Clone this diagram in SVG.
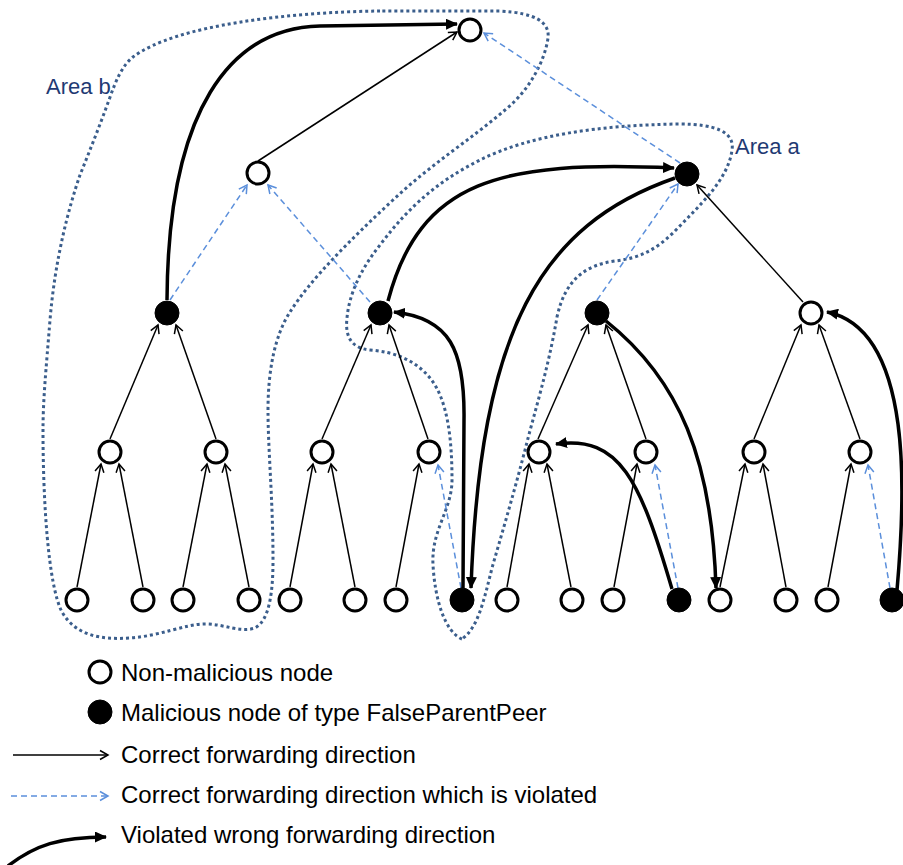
<svg xmlns="http://www.w3.org/2000/svg" width="903" height="865" viewBox="0 0 903 865">
  <style>
    .ok { fill: #ffffff; stroke: #000000; stroke-width: 3; }
    .bad { fill: #000000; stroke: #000000; stroke-width: 1; }
    .thin { fill: none; stroke: #000000; stroke-width: 1.5; marker-end: url(#openBlack); }
    .viol { fill: none; stroke: #5b8fdb; stroke-width: 1.5; stroke-dasharray: 6 4; marker-end: url(#openBlue); }
    .wrong { fill: none; stroke: #000000; stroke-width: 3.5; marker-end: url(#solid); }
    .area { fill: none; stroke: #3b5e8c; stroke-width: 3; stroke-dasharray: 3 3; }
    .areaLabel { font-family: "Liberation Sans", Arial, sans-serif; font-size: 22px; fill: #1f3a73; }
    .legendText { font-family: "Liberation Sans", Arial, sans-serif; font-size: 24px; fill: #000000; }
  </style>
  <defs>
    <marker id="openBlack" markerUnits="userSpaceOnUse" markerWidth="12" markerHeight="12" viewBox="0 0 12 12" refX="10" refY="6" orient="auto">
      <path d="M2,1.5 L10,6 L2,10.5" fill="none" stroke="#000000" stroke-width="1.5"/>
    </marker>
    <marker id="openBlue" markerUnits="userSpaceOnUse" markerWidth="12" markerHeight="12" viewBox="0 0 12 12" refX="10" refY="6" orient="auto">
      <path d="M2,1.5 L10,6 L2,10.5" fill="none" stroke="#5b8fdb" stroke-width="1.5"/>
    </marker>
    <marker id="solid" markerUnits="userSpaceOnUse" markerWidth="12" markerHeight="11" viewBox="0 0 12 11" refX="11" refY="5.5" orient="auto">
      <path d="M0,0 L12,5.5 L0,11 Z" fill="#000000"/>
    </marker>
  </defs>

  <rect width="903" height="865" fill="#ffffff"/>

  <!-- dotted outlines of the two attacked areas -->
  <g id="areas">
    <path id="area-b" class="area" d="M380,11 C290,12 175,25 133,57 C122,66 116,80 109,100 C100,125 90,150 80,175 C68,210 55,260 50,320 C46,370 43,400 43,430 C43,500 48,585 62,612 C75,635 100,640 130,638 C160,636 185,624 205,624 C225,624 240,633 255,628 C270,620 273,590 273,560 C273,500 268,450 268,410 C268,370 275,335 290,312 C310,280 350,240 393,200 C430,165 470,140 505,110 C530,90 545,60 548,38 C550,22 535,13 500,11 Z"/>
    <path id="area-a" class="area" d="M462,639 C445,632 435,600 433,565 C431,530 452,510 452,480 C452,440 448,400 430,378 C415,360 395,352 370,350 C350,348 345,335 347,318 C349,295 360,270 380,245 C410,205 440,180 480,160 C530,135 600,125 680,124 C715,124 735,132 732,150 C728,180 700,205 673,233 C655,250 640,258 615,261 C585,265 565,280 557,317 C548,370 535,410 525,450 C512,500 500,540 492,568 C484,600 478,628 462,639 Z"/>
    <text class="areaLabel" x="46" y="94">Area b</text>
    <text class="areaLabel" x="735" y="154">Area a</text>
  </g>

  <g id="connectors">
    <!-- correct forwarding direction -->
    <path class="thin" d="M258,161 L457,32"/>
    <path class="thin" d="M803,302 L697,185"/>
    <path class="thin" d="M110,439 L158,325"/>
    <path class="thin" d="M216,439 L176,325"/>
    <path class="thin" d="M322,439 L371,325"/>
    <path class="thin" d="M428,439 L389,325"/>
    <path class="thin" d="M538,439 L588,325"/>
    <path class="thin" d="M646,439 L606,325"/>
    <path class="thin" d="M754,439 L801,325"/>
    <path class="thin" d="M860,439 L819,325"/>
    <path class="thin" d="M77,587 L101,464"/>
    <path class="thin" d="M143,587 L119,464"/>
    <path class="thin" d="M183,587 L207,464"/>
    <path class="thin" d="M249,587 L225,464"/>
    <path class="thin" d="M290,587 L313,464"/>
    <path class="thin" d="M355,587 L331,464"/>
    <path class="thin" d="M396,587 L419,464"/>
    <path class="thin" d="M507,587 L529,464"/>
    <path class="thin" d="M571,587 L547,464"/>
    <path class="thin" d="M614,587 L637,464"/>
    <path class="thin" d="M720,587 L745,464"/>
    <path class="thin" d="M786,587 L763,464"/>
    <path class="thin" d="M828,587 L851,464"/>
    <!-- correct direction, violated -->
    <path class="viol" d="M680,163 L484,33"/>
    <path class="viol" d="M170,300 L247,185"/>
    <path class="viol" d="M370,302 L268,185"/>
    <path class="viol" d="M597,300 L678,184"/>
    <path class="viol" d="M461,588 L438,465"/>
    <path class="viol" d="M678,588 L655,465"/>
    <path class="viol" d="M890,588 L868,465"/>
    <!-- wrong forwarding direction -->
    <path class="wrong" d="M167,300 C168,110 230,28 320,26 L457,24"/>
    <path class="wrong" d="M388,301 C420,180 500,160 674,168"/>
    <path class="wrong" d="M675,178 C540,225 480,330 471,588"/>
    <path class="wrong" d="M463,588 L464,420 C465,350 450,318 394,312"/>
    <path class="wrong" d="M606,321 C680,380 712,460 716,588"/>
    <path class="wrong" d="M672,589 C640,480 620,435 556,444"/>
    <path class="wrong" d="M897,590 C905,500 915,330 827,312"/>
  </g>

  <g id="nodes">
    <g id="n-root"><circle class="ok" cx="470" cy="30" r="11"/></g>
    <g id="n-1a"><circle class="ok" cx="258" cy="173" r="11"/></g>
    <g id="n-1b"><circle class="bad" cx="687" cy="174" r="12"/></g>
    <g id="n-2a"><circle class="bad" cx="167" cy="313" r="12"/></g>
    <g id="n-2b"><circle class="bad" cx="380" cy="313" r="12"/></g>
    <g id="n-2c"><circle class="bad" cx="597" cy="313" r="12"/></g>
    <g id="n-2d"><circle class="ok" cx="811" cy="313" r="11"/></g>
    <g id="n-3a"><circle class="ok" cx="110" cy="452" r="11"/></g>
    <g id="n-3b"><circle class="ok" cx="216" cy="452" r="11"/></g>
    <g id="n-3c"><circle class="ok" cx="322" cy="452" r="11"/></g>
    <g id="n-3d"><circle class="ok" cx="429" cy="452" r="11"/></g>
    <g id="n-3e"><circle class="ok" cx="539" cy="452" r="11"/></g>
    <g id="n-3f"><circle class="ok" cx="646" cy="452" r="11"/></g>
    <g id="n-3g"><circle class="ok" cx="754" cy="452" r="11"/></g>
    <g id="n-3h"><circle class="ok" cx="860" cy="452" r="11"/></g>
    <g id="n-4a"><circle class="ok" cx="77" cy="600" r="11"/></g>
    <g id="n-4b"><circle class="ok" cx="143" cy="600" r="11"/></g>
    <g id="n-4c"><circle class="ok" cx="183" cy="600" r="11"/></g>
    <g id="n-4d"><circle class="ok" cx="249" cy="600" r="11"/></g>
    <g id="n-4e"><circle class="ok" cx="290" cy="600" r="11"/></g>
    <g id="n-4f"><circle class="ok" cx="355" cy="600" r="11"/></g>
    <g id="n-4g"><circle class="ok" cx="396" cy="600" r="11"/></g>
    <g id="n-4h"><circle class="bad" cx="462" cy="600" r="12"/></g>
    <g id="n-4i"><circle class="ok" cx="507" cy="600" r="11"/></g>
    <g id="n-4j"><circle class="ok" cx="572" cy="600" r="11"/></g>
    <g id="n-4k"><circle class="ok" cx="613" cy="600" r="11"/></g>
    <g id="n-4l"><circle class="bad" cx="679" cy="600" r="12"/></g>
    <g id="n-4m"><circle class="ok" cx="720" cy="600" r="11"/></g>
    <g id="n-4n"><circle class="ok" cx="786" cy="600" r="11"/></g>
    <g id="n-4o"><circle class="ok" cx="827" cy="600" r="11"/></g>
    <g id="n-4p"><circle class="bad" cx="892" cy="600" r="12"/></g>
  </g>

  <g id="legend">
    <circle class="ok" cx="100" cy="672" r="11"/>
    <text class="legendText" x="121" y="681">Non-malicious node</text>
    <circle class="bad" cx="100" cy="712" r="12"/>
    <text class="legendText" x="121" y="721">Malicious node of type FalseParentPeer</text>
    <path class="thin" d="M13,755 L108,755"/>
    <text class="legendText" x="121" y="763">Correct forwarding direction</text>
    <path class="viol" d="M11,796 L108,796"/>
    <text class="legendText" x="121" y="803">Correct forwarding direction which is violated</text>
    <path class="wrong" d="M8,866 C35,845 60,837 106,837"/>
    <text class="legendText" x="121" y="843">Violated wrong forwarding direction</text>
  </g>
</svg>
